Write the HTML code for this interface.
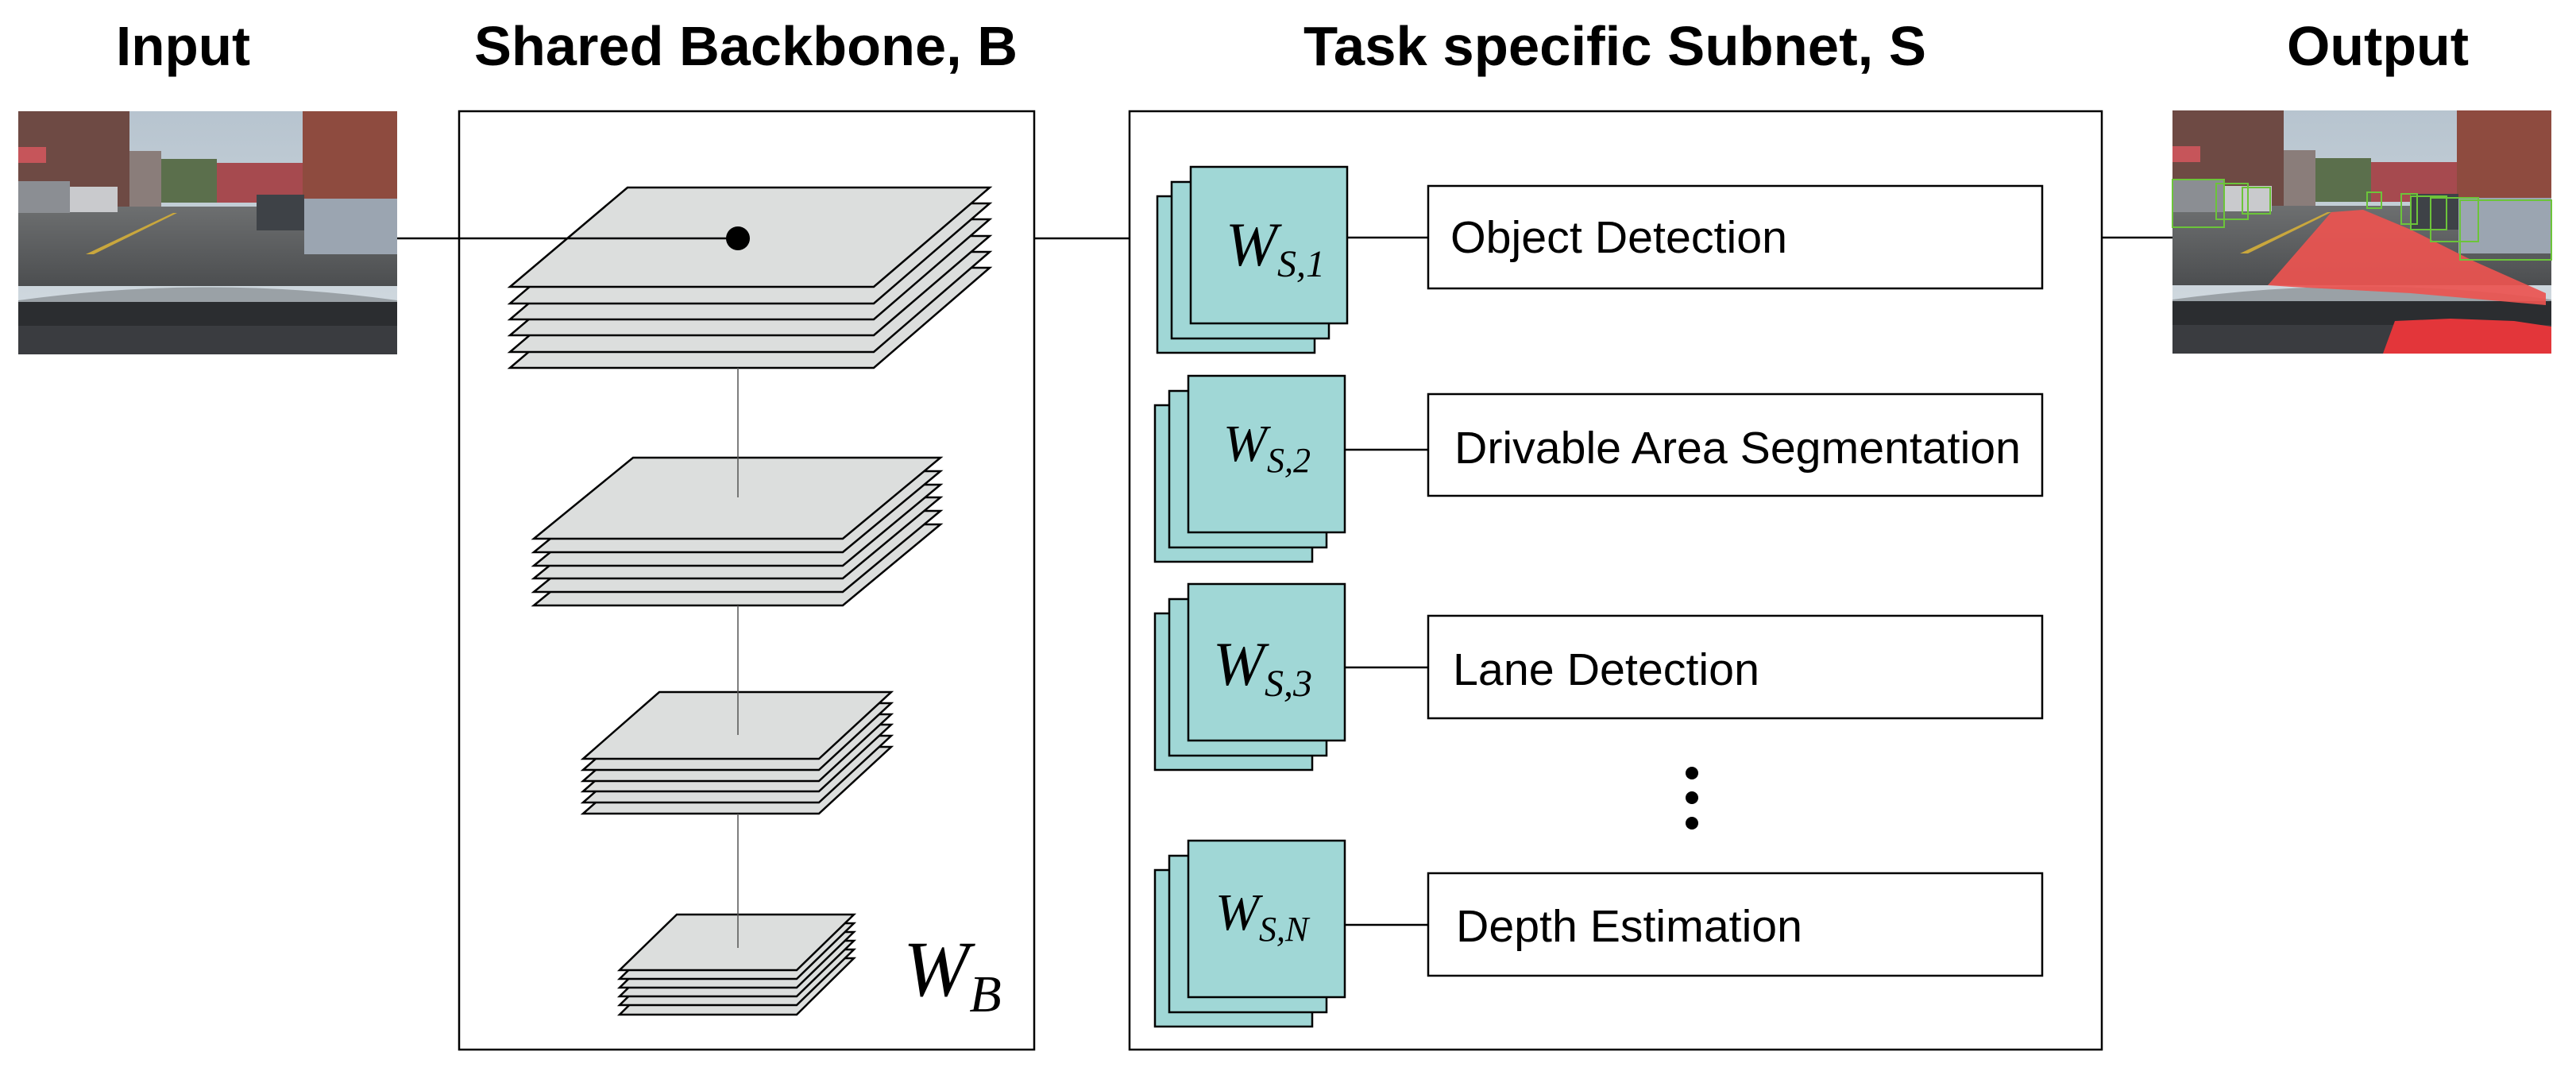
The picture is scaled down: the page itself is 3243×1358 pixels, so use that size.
<!DOCTYPE html>
<html><head><meta charset="utf-8"><style>
html,body{margin:0;padding:0;background:#fff;}
svg{display:block;}
</style></head><body>
<svg width="3243" height="1358" viewBox="0 0 3243 1358" xmlns="http://www.w3.org/2000/svg">
<defs>
<linearGradient id="sky" x1="0" y1="0" x2="0" y2="1"><stop offset="0" stop-color="#b7c4cf"/><stop offset="1" stop-color="#d5dde2"/></linearGradient>
<linearGradient id="road" x1="0" y1="0" x2="0" y2="1"><stop offset="0" stop-color="#6d6f70"/><stop offset="1" stop-color="#4c4e50"/></linearGradient>
<g id="photo">
<rect x="0" y="0" width="477" height="306" fill="url(#sky)"/>
<rect x="0" y="0" width="140" height="125" fill="#6e4a44"/>
<rect x="140" y="50" width="40" height="75" fill="#8a7d7a"/>
<rect x="250" y="65" width="110" height="50" fill="#a64a4f"/>
<rect x="180" y="60" width="70" height="55" fill="#5b6f4c"/>
<rect x="358" y="0" width="119" height="130" fill="#8e4b3f"/>
<rect x="0" y="45" width="35" height="20" fill="#c6555a"/>
<polygon points="0,120 477,120 477,220 0,220" fill="url(#road)"/>
<rect x="0" y="88" width="65" height="40" fill="#8b8e93"/>
<rect x="65" y="95" width="60" height="32" fill="#c9cacd"/>
<rect x="300" y="105" width="60" height="45" fill="#3e4247"/>
<rect x="360" y="110" width="117" height="70" fill="#9ba5b1"/>
<polygon points="85,180 195,128 200,128 95,180" fill="#c9a73d"/>
<path d="M0,238 Q240,205 477,238 L477,306 L0,306 Z" fill="#9aa1a6"/>
<rect x="0" y="240" width="477" height="66" fill="#2b2d30"/>
<rect x="0" y="270" width="477" height="36" fill="#3a3c40"/>
</g>
</defs>

<!-- Titles -->
<g font-family="Liberation Sans, Arial, sans-serif" font-weight="bold" font-size="70" fill="#000">
<text x="146" y="82" textLength="169" lengthAdjust="spacingAndGlyphs">Input</text>
<text x="597" y="82" textLength="684" lengthAdjust="spacingAndGlyphs">Shared Backbone, B</text>
<text x="1641" y="82" textLength="784" lengthAdjust="spacingAndGlyphs">Task specific Subnet, S</text>
<text x="2879" y="82" textLength="229" lengthAdjust="spacingAndGlyphs">Output</text>
</g>

<!-- Input image -->
<g transform="translate(23,140)"><use href="#photo"/></g>

<!-- Output image -->
<g transform="translate(2735,139)">
<use href="#photo"/>
<polygon points="120,220 200,128 240,125 300,150 380,190 470,230 470,200 470,245 300,230 150,222" fill="#ec5450" opacity="0.92"/>
<polygon points="265,306 280,265 350,262 430,265 477,272 477,306" fill="#e3363a"/>
<g fill="none" stroke="#6cc43a" stroke-width="2">
<rect x="0" y="87" width="65" height="60"/><rect x="55" y="92" width="40" height="45"/>
<rect x="88" y="97" width="35" height="33"/><rect x="245" y="103" width="18" height="20"/>
<rect x="288" y="105" width="20" height="38"/><rect x="300" y="108" width="45" height="42"/>
<rect x="325" y="110" width="60" height="55"/><rect x="362" y="113" width="115" height="75"/>
</g>
</g>

<!-- Backbone box -->
<rect x="578" y="140" width="724" height="1181" fill="#fff" stroke="#000" stroke-width="2.5"/>

<!-- Stacks -->
<g fill="#dcdedd" stroke="#000" stroke-width="2.5" stroke-linejoin="miter">
<!-- stack 1: 6 sheets, step 20.3 -->
<polygon points="790,337 1246,337 1100,463 642,463"/>
<polygon points="790,317 1246,317 1100,443 642,443"/>
<polygon points="790,297 1246,297 1100,422 642,422"/>
<polygon points="790,276 1246,276 1100,402 642,402"/>
<polygon points="790,256 1246,256 1100,382 642,382"/>
<polygon points="790,236 1246,236 1100,361 642,361"/>
<!-- stack 2 -->
<polygon points="797,660 1184,660 1061,762 672,762"/>
<polygon points="797,643 1184,643 1061,745 672,745"/>
<polygon points="797,626 1184,626 1061,728 672,728"/>
<polygon points="797,610 1184,610 1061,712 672,712"/>
<polygon points="797,593 1184,593 1061,695 672,695"/>
<polygon points="797,576 1184,576 1061,678 672,678"/>
<!-- stack 3 -->
<polygon points="830,940 1122,940 1031,1024 734,1024"/>
<polygon points="830,926 1122,926 1031,1010 734,1010"/>
<polygon points="830,912 1122,912 1031,996 734,996"/>
<polygon points="830,899 1122,899 1031,983 734,983"/>
<polygon points="830,885 1122,885 1031,969 734,969"/>
<polygon points="830,871 1122,871 1031,955 734,955"/>
<!-- stack 4 -->
<polygon points="852,1206 1075,1206 1003,1277 780,1277"/>
<polygon points="852,1195 1075,1195 1003,1265 780,1265"/>
<polygon points="852,1184 1075,1184 1003,1254 780,1254"/>
<polygon points="852,1173 1075,1173 1003,1243 780,1243"/>
<polygon points="852,1162 1075,1162 1003,1232 780,1232"/>
<polygon points="852,1151 1075,1151 1003,1221 780,1221"/>
</g>

<!-- backbone vertical links -->
<g stroke="#555" stroke-width="1.5">
<line x1="929" y1="463" x2="929" y2="626"/>
<line x1="929" y1="762" x2="929" y2="925"/>
<line x1="929" y1="1024" x2="929" y2="1193"/>
</g>

<!-- main horizontal lines -->
<g stroke="#000" stroke-width="2.5">
<line x1="500" y1="300" x2="929" y2="300"/>
<line x1="1302" y1="300" x2="1422" y2="300"/>
<line x1="2646" y1="299" x2="2735" y2="299"/>
</g>
<circle cx="929" cy="300" r="15" fill="#000"/>

<text x="1137" y="1253" font-family="Liberation Serif, DejaVu Serif, serif" font-style="italic" font-size="100" fill="#000">W<tspan font-size="66" dy="20">B</tspan></text>

<!-- Subnet box -->
<rect x="1422" y="140" width="1224" height="1181" fill="none" stroke="#000" stroke-width="2.5"/>

<!-- W stacks -->
<g fill="#a0d7d6" stroke="#000" stroke-width="2.5">
<g id="ws1">
<rect x="1457" y="247" width="198" height="197"/>
<rect x="1475" y="229" width="198" height="197"/>
<rect x="1499" y="210" width="197" height="197"/>
</g>
<use href="#ws1" transform="translate(-3,263)"/>
<use href="#ws1" transform="translate(-3,525)"/>
<use href="#ws1" transform="translate(-3,848)"/>
</g>

<g font-family="Liberation Serif, DejaVu Serif, serif" font-style="italic" fill="#000">
<text x="1543" y="334" font-size="78">W<tspan font-size="48" dy="14">S,1</tspan></text>
<text x="1540" y="580" font-size="66">W<tspan font-size="44" dy="14">S,2</tspan></text>
<text x="1527" y="862" font-size="78">W<tspan font-size="48" dy="14">S,3</tspan></text>
<text x="1530" y="1170" font-size="66">W<tspan font-size="44" dy="14">S,N</tspan></text>
</g>

<!-- connectors -->
<g stroke="#000" stroke-width="2.5">
<line x1="1696" y1="299" x2="1798" y2="299"/>
<line x1="1693" y1="566" x2="1798" y2="566"/>
<line x1="1693" y1="840" x2="1798" y2="840"/>
<line x1="1693" y1="1164" x2="1798" y2="1164"/>
</g>

<!-- task boxes -->
<g fill="#fff" stroke="#000" stroke-width="2.5">
<rect x="1798" y="234" width="773" height="129"/>
<rect x="1798" y="496" width="773" height="128"/>
<rect x="1798" y="775" width="773" height="129"/>
<rect x="1798" y="1099" width="773" height="129"/>
</g>
<g font-family="Liberation Sans, Arial, sans-serif" font-size="57" fill="#000">
<text x="1826" y="318" textLength="424" lengthAdjust="spacingAndGlyphs">Object Detection</text>
<text x="1831" y="583" textLength="713" lengthAdjust="spacingAndGlyphs">Drivable Area Segmentation</text>
<text x="1829" y="862" textLength="386" lengthAdjust="spacingAndGlyphs">Lane Detection</text>
<text x="1833" y="1185" textLength="436" lengthAdjust="spacingAndGlyphs">Depth Estimation</text>
</g>

<g fill="#000">
<circle cx="2130" cy="973" r="8"/>
<circle cx="2130" cy="1004" r="8"/>
<circle cx="2130" cy="1036" r="8"/>
</g>
</svg>
</body></html>
